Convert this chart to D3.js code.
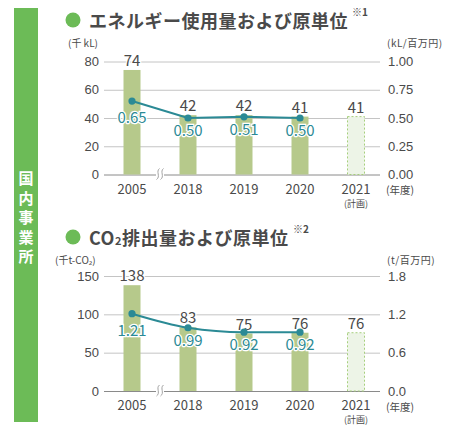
<!DOCTYPE html>
<html><head><meta charset="utf-8">
<script src="https://cdn.jsdelivr.net/npm/d3@7"></script>
<style>
html,body{margin:0;padding:0;background:#fff;}
svg{display:block;font-family:"Noto Sans CJK JP","Noto Sans",sans-serif;}
</style></head>
<body><svg id="c" width="455" height="432"></svg>
<script>
const years = ["2005","2018","2019","2020","2021"];
const plannedYear = "2021";
const energyUse = [74, 42, 42, 41, 41];
const energyIntensity = [0.65, 0.50, 0.51, 0.50];
const co2Emission = [138, 83, 75, 76, 76];
const co2Intensity = [1.21, 0.99, 0.92, 0.92];
const energyLeftTicks = [0, 20, 40, 60, 80];
const energyRightTicks = [0, 0.25, 0.5, 0.75, 1.0];
const co2LeftTicks = [0, 50, 100, 150];
const co2RightTicks = [0, 0.6, 1.2, 1.8];

const svg = d3.select("#c");
const TEXT = "#4a4a4a", TEAL = "#2b8a95", BAR = "#b6c98b";

// side panel
svg.append("rect").attr("x",14).attr("y",8).attr("width",24).attr("height",414).attr("fill","#6cbb57");
"国内事業所".split("").forEach((ch,i)=>{
  svg.append("text").attr("x",26).attr("y",184+i*19.5).attr("text-anchor","middle")
    .attr("fill","#fff").attr("font-size",15).attr("font-weight","bold").text(ch);
});

const x = d3.scalePoint().domain(years).range([132,356]);
const barW = 17;

function chart(cfg){
  const g = svg.append("g");
  // title
  g.append("circle").attr("cx",73).attr("cy",cfg.titleY-8).attr("r",7.5).attr("fill","#6cbb57");
  const t = g.append("text").attr("x",89).attr("y",cfg.titleY).attr("fill",TEXT)
    .attr("font-size",18).attr("font-weight","bold").attr("letter-spacing",0.5);
  cfg.title.forEach(p=>{
    const ts = t.append("tspan").text(p.t);
    if(p.sub) ts.attr("font-size",11);
  });
  g.append("text").attr("x",cfg.noteX).attr("y",cfg.titleY-12).attr("fill",TEXT)
    .attr("font-size",10).attr("font-weight","bold").text(cfg.note);

  const yL = d3.scaleLinear().domain([0,cfg.leftMax]).range([cfg.y0,cfg.yTop]);
  const yR = d3.scaleLinear().domain([0,cfg.rightMax]).range([cfg.y0,cfg.yTop]);

  // units
  g.append("text").attr("x",cfg.unitLX).attr("y",cfg.unitY).attr("fill",TEXT).attr("font-size",10).text(cfg.unitL);
  g.append("text").attr("x",387).attr("y",cfg.unitY).attr("fill",TEXT).attr("font-size",10)
    .attr("letter-spacing",0.5).text(cfg.unitR);

  // left axis + grid
  const ax = g.append("g").attr("transform","translate(104,0)")
    .call(d3.axisLeft(yL).tickValues(cfg.leftTicks).tickSize(-276).tickPadding(5));
  ax.select(".domain").remove();
  ax.selectAll(".tick line").attr("stroke","#c4c4c4");
  ax.selectAll(".tick").filter(d=>d===0).select("line").attr("stroke","#8a8a8a");
  ax.selectAll("text").attr("fill",TEXT).attr("font-size",13).attr("font-family",null);

  const axr = g.append("g").attr("transform","translate(380,0)")
    .call(d3.axisRight(yR).tickValues(cfg.rightTicks).tickSize(0).tickPadding(8).tickFormat(d3.format(cfg.rfmt)));
  axr.select(".domain").remove();
  axr.selectAll("text").attr("fill",TEXT).attr("font-size",13).attr("font-family",null);

  // break mark
  const bx = (x(years[0])+x(years[1]))/2;
  g.append("rect").attr("x",bx-4).attr("y",cfg.y0-3).attr("width",8).attr("height",6).attr("fill","#fff");
  [-2,2].forEach(dx=>{
    g.append("path").attr("d",`M${bx+dx+1.5},${cfg.y0-6} C${bx+dx-2.5},${cfg.y0-3} ${bx+dx+3},${cfg.y0+2} ${bx+dx-1.5},${cfg.y0+5}`)
      .attr("fill","none").attr("stroke","#999").attr("stroke-width",0.9);
  });

  // bars
  years.forEach((yr,i)=>{
    const v = cfg.bars[i];
    const planned = yr===plannedYear;
    g.append("rect").attr("x",x(yr)-barW/2).attr("y",yL(v)).attr("width",barW).attr("height",yL(0)-yL(v))
      .attr("fill",planned?"#edf4e7":BAR)
      .attr("stroke",planned?"#a6cf7c":"none").attr("stroke-dasharray",planned?"2,2":null).attr("stroke-width",1);
    g.append("text").attr("x",x(yr)).attr("y",yL(v)-4).attr("text-anchor","middle")
      .attr("fill",TEXT).attr("font-size",15)
      .attr("stroke","#fff").attr("stroke-width",2.5).attr("paint-order","stroke").text(v);
  });

  // line
  const pts = cfg.line.map((v,i)=>[x(years[i]),yR(v)]);
  g.append("path").attr("d",d3.line().curve(cfg.curve)(pts)).attr("fill","none").attr("stroke",TEAL).attr("stroke-width",2);
  cfg.line.forEach((v,i)=>{
    g.append("circle").attr("cx",x(years[i])).attr("cy",yR(v)).attr("r",3.6).attr("fill",TEAL);
    g.append("text").attr("x",x(years[i])).attr("y",yR(v)+(i===0?22:18)).attr("text-anchor","middle")
      .attr("fill",TEAL).attr("font-size",15)
      .attr("stroke","#fff").attr("stroke-width",2.5).attr("paint-order","stroke").text(d3.format(".2f")(v));
  });

  // x labels
  years.forEach(yr=>{
    g.append("text").attr("x",x(yr)).attr("y",cfg.y0+19).attr("text-anchor","middle")
      .attr("fill",TEXT).attr("font-size",13).text(yr);
  });
  g.append("text").attr("x",x(plannedYear)).attr("y",cfg.y0+32).attr("text-anchor","middle")
    .attr("fill",TEXT).attr("font-size",9).text("(計画)");
  g.append("text").attr("x",386).attr("y",cfg.y0+19.5).attr("fill",TEXT).attr("font-size",10.5).text("(年度)");
}

chart({titleY:28, title:[{t:"エネルギー使用量および原単位"}], note:"※1", noteX:352,
  leftMax:80, rightMax:1.0, y0:174.5, yTop:61.5, leftTicks:energyLeftTicks, rightTicks:energyRightTicks, rfmt:".2f",
  unitL:"(千 kL)", unitLX:68, unitR:"(kL/百万円)", unitY:47,
  bars:energyUse, line:energyIntensity, curve:d3.curveLinear});

chart({titleY:245, title:[{t:"CO"},{t:"2",sub:true},{t:"排出量および原単位"}], note:"※2", noteX:293,
  leftMax:150, rightMax:1.8, y0:391, yTop:276, leftTicks:co2LeftTicks, rightTicks:co2RightTicks, rfmt:".1f",
  unitL:"(千t-CO₂)", unitLX:55, unitR:"(t/百万円)", unitY:264,
  bars:co2Emission, line:co2Intensity, curve:d3.curveMonotoneX});
</script></body></html>
